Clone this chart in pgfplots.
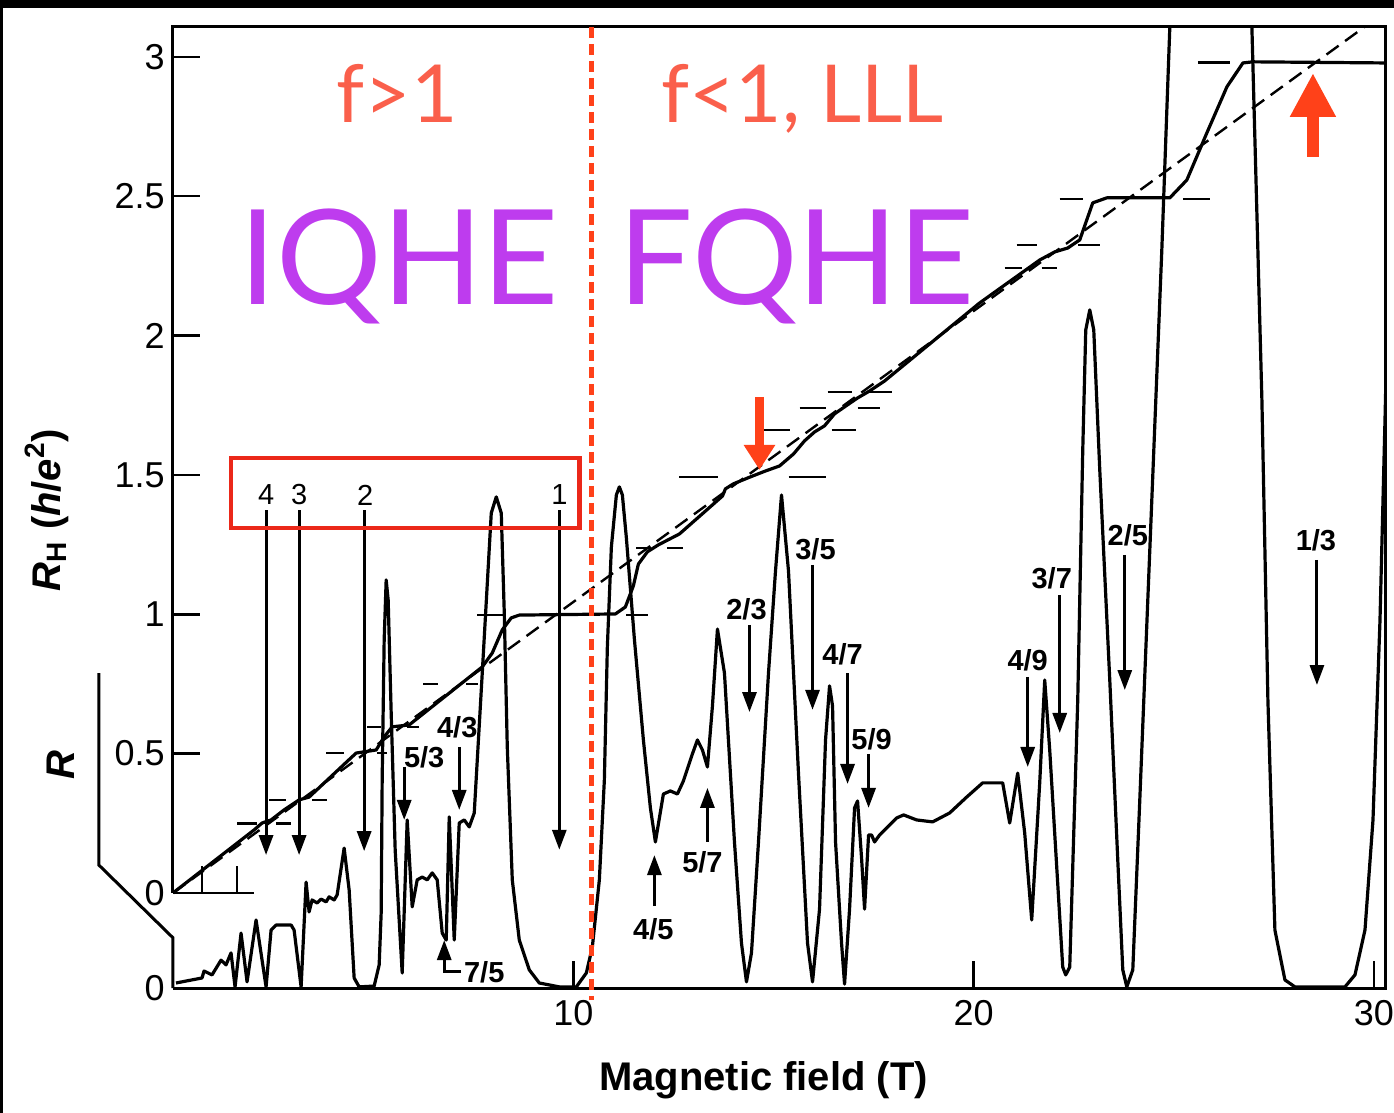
\documentclass[border=0pt]{standalone}
\usepackage{pgfplots}
\pgfplotsset{compat=1.18}
\usetikzlibrary{arrows.meta}
\usepackage{fontspec}
\setmainfont{Liberation Sans}
\newfontfamily\lato{Lato}
\definecolor{fred}{RGB}{250,95,75}
\definecolor{qpurple}{RGB}{190,60,238}
\definecolor{boxred}{RGB}{235,40,25}
\definecolor{arrred}{RGB}{255,65,25}
\begin{document}
\begin{tikzpicture}
\useasboundingbox (0,0) rectangle (697pt,-556.5pt);
\fill[black] (0,0) rectangle (697pt,-4pt);
\fill[black] (0,0) rectangle (1.5pt,-556.5pt);
\begin{axis}[
  at={(86.5pt,-494pt)}, anchor=south west,
  scale only axis, width=606pt, height=480.5pt,
  xmin=0, xmax=30.275, ymin=-0.341, ymax=3.107,
  axis line style={draw=none},
  clip mode=individual,
  tick align=inside,
  major tick length=13.5pt,
  xtick={10,20,30}, xticklabels={10,20,30},
  ytick={-0.341,0,0.5,1,1.5,2,2.5,3},
  yticklabels={0,0,0.5,1,1.5,2,2.5,3},
  xtick pos=bottom, ytick pos=left,
  tick style={line width=1.3pt, black},
  tick label style={font=\fontsize{18}{20}\selectfont},
  yticklabel style={inner sep=0pt, xshift=-4pt},
  xticklabel style={inner sep=0pt, yshift=-6pt},
]
% longitudinal resistance R (offset baseline)
\addplot[black, line width=1.6pt, line join=round, y filter/.expression={y-0.341}] coordinates {
(0.075,0.018)(0.725,0.036)(0.775,0.061)(0.975,0.047)(1.2,0.100)(1.325,0.083)(1.45,0.126)(1.55,0.004)(1.7,0.197)(1.85,0.022)(2.075,0.244)(2.325,0.004)(2.45,0.208)(2.575,0.226)(2.95,0.226)(3.025,0.208)(3.2,0.004)(3.325,0.380)(3.4,0.273)(3.475,0.316)(3.6,0.305)(3.7,0.319)(3.825,0.309)(3.9,0.327)(4.025,0.316)(4.1,0.334)(4.275,0.502)(4.4,0.352)(4.525,0.036)(4.65,0.004)(5.025,0.007)(5.15,0.083)(5.2,0.269)(5.225,0.746)(5.275,1.249)(5.325,1.464)(5.375,1.392)(5.45,0.987)(5.55,0.495)(5.725,0.054)(5.85,0.603)(5.975,0.291)(6.1,0.388)(6.225,0.398)(6.35,0.388)(6.475,0.413)(6.6,0.388)(6.725,0.197)(6.825,0.172)(6.9,0.614)(7.025,0.172)(7.15,0.592)(7.275,0.603)(7.4,0.578)(7.525,0.628)(7.725,1.130)(7.95,1.704)(8.075,1.762)(8.2,1.704)(8.275,1.346)(8.35,0.865)(8.475,0.388)(8.65,0.172)(8.9,0.065)(9.15,0.018)(9.65,0.004)(10.075,0.004)(10.325,0.054)(10.475,0.147)(10.65,0.388)(10.775,0.746)(10.85,1.224)(10.95,1.582)(11.075,1.769)(11.15,1.798)(11.225,1.769)(11.325,1.615)(11.525,1.252)(11.75,0.890)(11.925,0.646)(12.05,0.524)(12.25,0.696)(12.425,0.707)(12.6,0.696)(12.75,0.743)(12.975,0.840)(13.1,0.890)(13.225,0.854)(13.35,0.793)(13.475,1.012)(13.6,1.288)(13.775,1.130)(14.025,0.524)(14.2,0.161)(14.325,0.022)(14.45,0.126)(14.625,0.524)(14.875,1.130)(15.05,1.496)(15.2,1.769)(15.375,1.496)(15.625,0.768)(15.85,0.161)(15.975,0.022)(16.15,0.283)(16.3,0.890)(16.4,1.084)(16.475,1.012)(16.55,0.524)(16.7,0.161)(16.775,0.014)(16.9,0.283)(17.025,0.646)(17.1,0.671)(17.2,0.466)(17.275,0.283)(17.375,0.549)(17.45,0.549)(17.525,0.524)(17.65,0.549)(17.825,0.574)(18.075,0.610)(18.25,0.621)(18.575,0.603)(18.975,0.596)(19.4,0.628)(19.825,0.685)(20.225,0.736)(20.725,0.736)(20.9,0.592)(21.1,0.771)(21.275,0.556)(21.45,0.244)(21.65,0.736)(21.775,1.105)(21.9,0.854)(22.075,0.434)(22.225,0.075)(22.3,0.047)(22.4,0.075)(22.475,0.434)(22.6,1.033)(22.725,1.930)(22.8,2.361)(22.9,2.433)(23.0,2.361)(23.15,1.859)(23.4,1.105)(23.6,0.459)(23.725,0.065)(23.825,0.004)(23.975,0.065)(24.15,0.675)(24.45,1.751)(24.7,2.648)(24.9,3.448)(25.0,3.689)(26.9,3.689)(26.95,3.448)(27.2,2.110)(27.35,1.033)(27.525,0.208)(27.775,0.029)(28.025,0.004)(29.275,0.004)(29.525,0.047)(29.775,0.208)(29.975,0.603)(30.15,1.320)(30.275,2.038)(30.4,2.827)
};
% classical Hall line
\addplot[black, line width=1.2pt, dash pattern=on 7.5pt off 4pt] coordinates {(0,0) (29.76,3.107)};
% Hall resistance R_H
\addplot[black, line width=1.6pt, line join=round] coordinates {
(0,0)(2.025,0.226)(2.225,0.251)(2.45,0.262)(2.775,0.298)(3.15,0.334)(3.4,0.344)(4.575,0.502)(5.075,0.513)(5.275,0.560)(5.475,0.596)(5.9,0.603)(7.725,0.811)(7.975,0.861)(8.225,0.944)(8.45,0.987)(8.65,0.997)(11.05,1.001)(11.3,1.026)(11.5,1.102)(11.625,1.180)(11.85,1.224)(12.125,1.249)(12.65,1.288)(13.275,1.367)(13.725,1.424)(13.8,1.450)(14.0,1.468)(14.425,1.493)(14.8,1.514)(15.15,1.532)(15.5,1.575)(15.775,1.622)(16.025,1.654)(16.275,1.676)(16.525,1.719)(16.775,1.744)(17.1,1.776)(17.4,1.801)(17.775,1.837)(20.15,2.117)(21.65,2.271)(22.025,2.300)(22.35,2.314)(22.65,2.343)(22.975,2.476)(23.325,2.494)(24.9,2.494)(25.325,2.558)(25.825,2.727)(26.325,2.892)(26.725,2.978)(26.975,2.982)(30.275,2.978)
};
% plateau markers
\addplot[black, line width=1.3pt, unbounded coords=jump] coordinates {
(1.6,0.25)(2.1,0.25)(2.1,nan)
(2.575,0.25)(2.95,0.25)(2.95,nan)
(2.4,0.334)(2.825,0.334)(2.825,nan)
(3.475,0.334)(3.85,0.334)(3.85,nan)
(3.825,0.502)(4.275,0.502)(4.275,nan)
(5.1,0.502)(5.35,0.502)(5.35,nan)
(4.85,0.596)(5.2,0.596)(5.2,nan)
(5.85,0.596)(6.15,0.596)(6.15,nan)
(6.25,0.75)(6.625,0.75)(6.625,nan)
(7.325,0.75)(7.625,0.75)(7.625,nan)
(7.6,0.997)(8.3,0.997)(8.3,nan)
(11.325,0.997)(11.875,0.997)(11.875,nan)
(11.575,1.238)(11.95,1.238)(11.95,nan)
(12.35,1.238)(12.75,1.238)(12.75,nan)
(12.65,1.493)(13.625,1.493)(13.625,nan)
(15.375,1.493)(16.3,1.493)(16.3,nan)
(14.7,1.661)(15.4,1.661)(15.4,nan)
(16.45,1.661)(17.05,1.661)(17.05,nan)
(15.65,1.740)(16.3,1.740)(16.3,nan)
(17.1,1.740)(17.65,1.740)(17.65,nan)
(16.35,1.798)(16.95,1.798)(16.95,nan)
(17.3,1.798)(17.95,1.798)(17.95,nan)
(20.775,2.243)(21.2,2.243)(21.2,nan)
(21.7,2.243)(22.075,2.243)(22.075,nan)
(21.075,2.325)(21.575,2.325)(21.575,nan)
(22.6,2.325)(23.15,2.325)(23.15,nan)
(22.15,2.49)(22.725,2.49)(22.725,nan)
(25.225,2.49)(25.9,2.49)(25.9,nan)
(25.6,2.98)(26.4,2.98)
};
% frame
\draw[line width=1.5pt] (axis cs:0,0) -- (axis cs:0,3.107) -- (axis cs:30.275,3.107) -- (axis cs:30.275,-0.341) -- (axis cs:0,-0.341);
\draw[line width=1.5pt] (axis cs:-1.85,0.789) -- (axis cs:-1.85,0.100) -- (axis cs:0,-0.161) -- (axis cs:0,-0.341);
\draw[line width=1.3pt] (axis cs:0,0) -- (axis cs:2.025,0);
\draw[line width=1.3pt] (axis cs:0.725,0) -- (axis cs:0.725,0.097);
\draw[line width=1.3pt] (axis cs:1.6,0) -- (axis cs:1.6,0.097);
% axis labels
\node[rotate=90, font=\bfseries\fontsize{20}{24}\selectfont] at (axis cs:-3.15,1.374) {\textit{R}\textsubscript{H} (\textit{h}/\textit{e}\textsuperscript{2})};
\node[rotate=90, font=\bfseries\itshape\fontsize{20}{24}\selectfont] at (axis cs:-2.8,0.459) {R};
\node[font=\bfseries\fontsize{20}{24}\selectfont] at (axis cs:14.75,-0.671) {Magnetic field (T)};
% filling factor arrows
\tikzset{fa/.style={line width=1.5pt, -{Triangle[length=10pt,width=7pt]}},
         fl/.style={font=\bfseries\fontsize{14.5}{16}\selectfont, inner sep=0pt},
         nl/.style={font=\fontsize{14.5}{16}\selectfont, inner sep=0pt}}
\node[nl] at (axis cs:2.325,1.428) {4};
\node[nl] at (axis cs:3.15,1.428) {3};
\node[nl] at (axis cs:4.8,1.428) {2};
\node[nl] at (axis cs:9.65,1.428) {1};
\draw[fa] (axis cs:2.325,1.374) -- (axis cs:2.325,0.136);
\draw[fa] (axis cs:3.15,1.374) -- (axis cs:3.15,0.136);
\draw[fa] (axis cs:4.775,1.374) -- (axis cs:4.775,0.150);
\draw[fa] (axis cs:9.65,1.374) -- (axis cs:9.65,0.155);
\node[fl] at (axis cs:6.275,0.488) {5/3};
\draw[fa] (axis cs:5.775,0.452) -- (axis cs:5.775,0.262);
\node[fl] at (axis cs:7.1,0.596) {4/3};
\draw[fa] (axis cs:7.15,0.524) -- (axis cs:7.15,0.298);
\node[fl] at (axis cs:7.775,-0.283) {7/5};
\draw[fa] (axis cs:7.2,-0.283) -- (axis cs:6.775,-0.283) -- (axis cs:6.775,-0.169);
\node[fl] at (axis cs:12.0,-0.129) {4/5};
\draw[fa] (axis cs:12.025,-0.047) -- (axis cs:12.025,0.136);
\node[fl] at (axis cs:13.225,0.111) {5/7};
\draw[fa] (axis cs:13.35,0.183) -- (axis cs:13.35,0.377);
\node[fl] at (axis cs:14.325,1.019) {2/3};
\draw[fa] (axis cs:14.4,0.962) -- (axis cs:14.4,0.649);
\node[fl] at (axis cs:16.05,1.234) {3/5};
\draw[fa] (axis cs:15.975,1.177) -- (axis cs:15.975,0.657);
\node[fl] at (axis cs:16.725,0.858) {4/7};
\draw[fa] (axis cs:16.85,0.789) -- (axis cs:16.85,0.391);
\node[fl] at (axis cs:17.45,0.553) {5/9};
\draw[fa] (axis cs:17.375,0.499) -- (axis cs:17.375,0.305);
\node[fl] at (axis cs:21.35,0.836) {4/9};
\draw[fa] (axis cs:21.35,0.775) -- (axis cs:21.35,0.452);
\node[fl] at (axis cs:21.95,1.130) {3/7};
\draw[fa] (axis cs:22.15,1.069) -- (axis cs:22.15,0.574);
\node[fl] at (axis cs:23.85,1.285) {2/5};
\draw[fa] (axis cs:23.775,1.213) -- (axis cs:23.775,0.728);
\node[fl] at (axis cs:28.55,1.267) {1/3};
\draw[fa] (axis cs:28.575,1.195) -- (axis cs:28.575,0.746);
% overlays
\draw[arrred, line width=2.3pt, dash pattern=on 5.5pt off 3pt] (axis cs:10.45,3.107) -- (axis cs:10.45,-0.384);
\draw[boxred, line width=2.3pt] (axis cs:1.45,1.561) rectangle (axis cs:10.15,1.310);
\draw[arrred, line width=4.5pt, -{Triangle[length=12.5pt,width=15pt]}] (axis cs:14.65,1.780) -- (axis cs:14.65,1.518);
\draw[arrred, line width=6pt, -{Triangle[length=22pt,width=21.5pt]}] (axis cs:28.475,2.641) -- (axis cs:28.475,2.942);
\node[anchor=base, font=\lato\fontsize{40}{44}\selectfont, text=fred] at (axis cs:5.6,2.766) {f>1};
\node[anchor=base, font=\lato\fontsize{40}{44}\selectfont, text=fred] at (axis cs:15.725,2.766) {f<1, LLL};
\node[anchor=base, font=\lato\fontsize{66}{70}\selectfont, text=qpurple] at (axis cs:5.65,2.110) {IQHE};
\node[anchor=base, font=\lato\fontsize{66}{70}\selectfont, text=qpurple] at (axis cs:15.575,2.110) {FQHE};
\end{axis}
\end{tikzpicture}
\end{document}
